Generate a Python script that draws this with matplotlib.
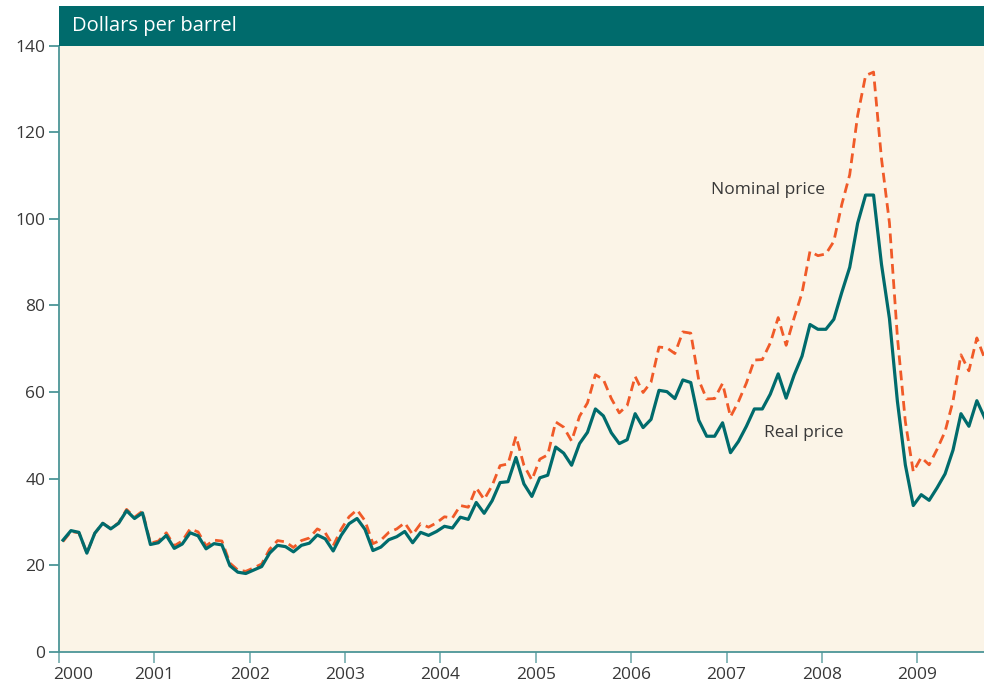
import numpy as np
import matplotlib
matplotlib.use("Agg")
import matplotlib.pyplot as plt
from matplotlib.patches import Rectangle
import matplotlib.transforms as mtransforms

plt.rcParams['font.family'] = ['Open Sans', 'DejaVu Sans']

# monthly prices, Jan 2000 - Sep 2009 (dollars per barrel)
nominal = [
    25.5, 27.8, 27.5, 22.8, 27.4, 29.7, 28.5, 29.8, 32.9, 31.1, 32.5, 25.1,
    25.6, 27.5, 24.5, 25.6, 28.4, 27.7, 24.5, 25.8, 25.6, 20.5, 18.9, 18.6,
    19.4, 20.3, 23.7, 25.7, 25.4, 24.1, 25.7, 26.3, 28.4, 27.5, 24.5, 28.3,
    31.2, 32.8, 30.3, 25.0, 25.8, 27.6, 28.4, 29.8, 27.1, 29.6, 28.8, 29.8,
    31.2, 30.9, 33.8, 33.4, 37.9, 35.2, 38.4, 43.0, 43.4, 49.8, 43.1, 39.7,
    44.5, 45.5, 53.1, 51.9, 48.7, 54.4, 57.5, 64.0, 62.9, 58.5, 55.2, 56.9,
    63.6, 59.9, 62.3, 70.4, 70.2, 68.9, 73.9, 73.6, 62.8, 58.4, 58.5, 62.0,
    54.3, 57.8, 62.1, 67.4, 67.5, 71.3, 77.2, 70.8, 77.1, 82.9, 92.5, 91.5,
    91.9, 94.8, 103.3, 110.2, 123.9, 133.1, 133.9, 113.9, 99.1, 72.8, 53.2, 41.6,
    44.9, 43.2, 46.8, 50.9, 57.9, 68.6, 64.9, 72.5, 67.7,
]
real = [
    25.8, 28.0, 27.6, 22.8, 27.4, 29.7, 28.4, 29.7, 32.6, 30.8, 32.1, 24.8,
    25.2, 26.9, 23.9, 24.9, 27.5, 26.8, 23.8, 25.0, 24.7, 19.9, 18.4, 18.1,
    18.9, 19.7, 22.8, 24.6, 24.3, 23.1, 24.6, 25.1, 27.0, 26.1, 23.3, 26.9,
    29.6, 30.8, 28.3, 23.4, 24.2, 25.9, 26.6, 27.8, 25.2, 27.6, 26.9, 27.8,
    29.0, 28.6, 31.1, 30.6, 34.5, 32.0, 34.9, 39.1, 39.3, 44.9, 38.8, 35.9,
    40.2, 40.8, 47.3, 45.9, 43.1, 48.1, 50.7, 56.1, 54.5, 50.6, 48.1, 49.0,
    55.0, 51.8, 53.7, 60.4, 60.1, 58.5, 62.8, 62.2, 53.5, 49.8, 49.8, 52.9,
    46.0, 48.6, 52.1, 56.1, 56.1, 59.5, 64.2, 58.6, 63.9, 68.3, 75.6, 74.5,
    74.5, 76.8, 83.0, 88.8, 99.0, 105.5, 105.5, 89.5, 77.0, 57.9, 43.2, 33.8,
    36.3, 35.0, 37.9, 41.1, 46.6, 55.0, 52.1, 58.0, 54.0,
]
years = list(range(2000, 2010))
yticks = [0, 20, 40, 60, 80, 100, 120, 140]

# mid-month positions
x = 2000 + (np.arange(len(nominal)) + 0.5) / 12

teal = '#006b6c'
orange = '#f05a28'
cream = '#fbf4e7'
axis_col = '#4c9597'
text_col = '#383838'

fig = plt.figure(figsize=(9.84, 6.92), dpi=100)
ax = fig.add_axes([0.060, 0.058, 0.940, 0.876])
ax.set_facecolor(cream)

ax.plot(x, nominal, color=orange, lw=2.0, dashes=(3.5, 2.0), zorder=3)
ax.plot(x, real, color=teal, lw=2.3, zorder=4)

ax.set_xlim(2000, 2009.70)
ax.set_ylim(0, 140)
ax.set_xticks(years)
ax.set_xticklabels([str(y) for y in years])
ax.set_yticks(yticks)

for s in ['top', 'right']:
    ax.spines[s].set_visible(False)
for s in ['left', 'bottom']:
    ax.spines[s].set_color(axis_col)
    ax.spines[s].set_linewidth(1.3)

ax.tick_params(axis='y', direction='out', length=7, width=1.3, color=axis_col,
               labelsize=12.5, labelcolor=text_col, pad=3)
ax.tick_params(axis='x', direction='out', length=8, width=1.3, color='#7fb3b4',
               labelsize=12.5, labelcolor=text_col, pad=3)

# nudge first year label right so it clears the y axis
lbl0 = ax.get_xticklabels()[0]
lbl0.set_transform(lbl0.get_transform() +
                   mtransforms.ScaledTranslation(14 / 100, 0, fig.dpi_scale_trans))

ax.text(2006.84, 106.7, 'Nominal price', fontsize=12.5, color=text_col, va='center')
ax.text(2007.39, 50.6, 'Real price', fontsize=12.5, color=text_col, va='center')

# header band
fig.patches.append(Rectangle((0.060, 0.934), 0.940, 0.058, transform=fig.transFigure,
                             facecolor=teal, edgecolor='none', zorder=0))
fig.text(0.073, 0.962, 'Dollars per barrel', color='white', fontsize=14.5, va='center')

fig.savefig('out.png', dpi=100)
